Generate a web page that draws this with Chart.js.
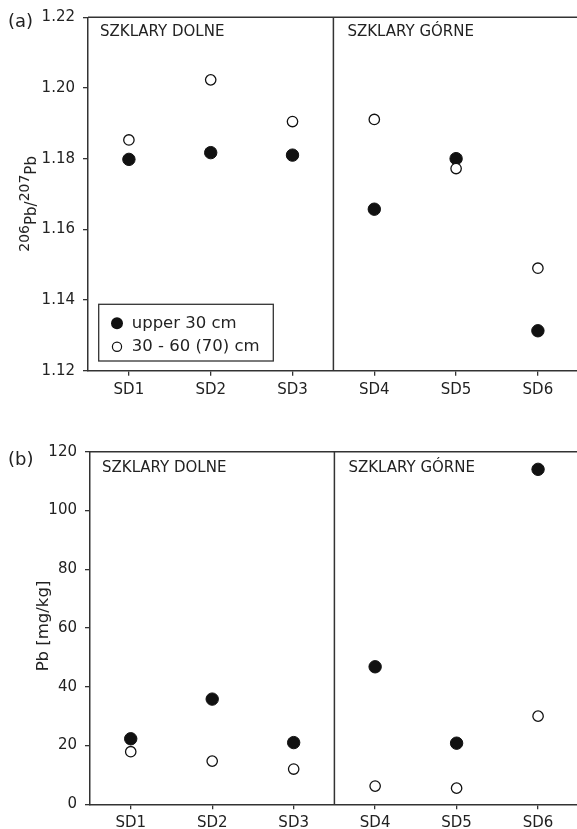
<!DOCTYPE html>
<html><head><meta charset="utf-8">
<script src="https://cdn.jsdelivr.net/npm/chart.js@4"></script>
<style>
html,body{margin:0;padding:0;background:#fff;overflow:hidden;width:577px;height:829px;position:relative}
#wa{position:absolute;left:0;top:0;width:586px;height:415px}
#wb{position:absolute;left:0;top:415px;width:586px;height:420px}
</style></head><body>
<div id="wa"><canvas id="ca" width="586" height="415"></canvas></div>
<div id="wb"><canvas id="cb" width="586" height="420"></canvas></div>
<script>
const categories = ['SD1','SD2','SD3','SD4','SD5','SD6'];
const ratioUpper = [1.1798,1.1817,1.1810,1.1657,1.1800,1.1313];
const ratioDeep  = [1.1853,1.2023,1.1905,1.1911,1.1772,1.1490];
const pbUpper = [22.3,35.8,21.0,46.8,20.8,114.0];
const pbDeep  = [17.9,14.7,12.0,6.2,5.5,30.0];
const seriesNames = ['upper 30 cm','30 - 60 (70) cm'];
const siteNames = ['SZKLARY DOLNE','SZKLARY GÓRNE'];
const ratioTicks = [1.12,1.14,1.16,1.18,1.20,1.22];
const pbTicks = [0,20,40,60,80,100,120];

const FONT = "'DejaVu Sans', sans-serif";
const INK = '#222';
const LINE = '#333';

const panelPlugin = {
  id: 'panel',
  beforeDatasetsDraw(chart, args, opts) {
    const ctx = chart.ctx, a = chart.chartArea, x = chart.scales.x;
    ctx.save();
    ctx.strokeStyle = LINE; ctx.lineWidth = 1.5;
    ctx.beginPath();
    ctx.moveTo(a.left, a.top); ctx.lineTo(a.right + 5, a.top);
    const dx = (x.getPixelForValue(2) + x.getPixelForValue(3)) / 2;
    ctx.moveTo(dx, a.top); ctx.lineTo(dx, a.bottom);
    ctx.stroke();
    ctx.fillStyle = INK; ctx.font = '15px ' + FONT; ctx.textBaseline = 'middle'; ctx.textAlign = 'left';
    ctx.fillText(siteNames[0], a.left + 12, a.top + opts.siteDy);
    ctx.fillText(siteNames[1], dx + 14, a.top + opts.siteDy);
    ctx.font = '18px ' + FONT;
    ctx.fillText(opts.tag, 8, opts.tagY);
    ctx.restore();
  },
  afterDraw(chart, args, opts) {
    const ctx = chart.ctx, a = chart.chartArea;
    ctx.save();
    ctx.fillStyle = INK;
    if (opts.legend) {
      const bl = a.left + 10.7, bt = a.bottom - 66.4, bw = 174.6, bh = 56.7;
      ctx.fillStyle = '#fff';
      ctx.fillRect(bl, bt, bw, bh);
      ctx.strokeStyle = LINE; ctx.lineWidth = 1.3;
      ctx.strokeRect(bl, bt, bw, bh);
      const rows = [bt + 19, bt + 42.4];
      ctx.fillStyle = '#111';
      ctx.beginPath(); ctx.arc(bl + 18.3, rows[0], 6, 0, Math.PI * 2); ctx.fill();
      ctx.fillStyle = '#fff'; ctx.strokeStyle = '#111'; ctx.lineWidth = 1.2;
      ctx.beginPath(); ctx.arc(bl + 18.3, rows[1], 4.6, 0, Math.PI * 2); ctx.fill(); ctx.stroke();
      ctx.fillStyle = INK; ctx.font = '16.5px ' + FONT; ctx.textBaseline = 'middle'; ctx.textAlign = 'left';
      ctx.fillText(seriesNames[0], bl + 33, rows[0]);
      ctx.fillText(seriesNames[1], bl + 33, rows[1]);
    }
    ctx.fillStyle = INK;
    ctx.textBaseline = 'alphabetic'; ctx.textAlign = 'left';
    if (opts.ratioTitle) {
      ctx.translate(35.5, 251.7);
      ctx.rotate(-Math.PI / 2);
      let px = 0;
      const parts = [['206', 14, -7], ['Pb', 15, 0], ['/', 15, 0], ['207', 14, -7], ['Pb', 15, 0]];
      for (const [t, s, dy] of parts) {
        ctx.font = s + 'px ' + FONT;
        ctx.fillText(t, px, dy);
        px += ctx.measureText(t).width;
      }
    }
    if (opts.pbTitle) {
      ctx.translate(48, (a.top + a.bottom) / 2 - 2);
      ctx.rotate(-Math.PI / 2);
      ctx.textAlign = 'center';
      ctx.font = '16.5px ' + FONT;
      ctx.fillText(opts.pbTitle, 0, 0);
    }
    ctx.restore();
  }
};

function makeChart(id, upper, deep, ticks, yWidth, xHeight, padTop, panelOpts, fmt) {
  return new Chart(document.getElementById(id), {
    type: 'line',
    data: {
      labels: categories,
      datasets: [
        { label: seriesNames[1], data: deep, showLine: false, pointRadius: 5.2, pointHoverRadius: 5.2,
          pointBackgroundColor: '#fff', pointBorderColor: '#111', pointBorderWidth: 1.3, borderColor: '#111', backgroundColor: '#fff' },
        { label: seriesNames[0], data: upper, showLine: false, pointRadius: 6.2, pointHoverRadius: 6.2,
          pointBackgroundColor: '#111', pointBorderColor: '#111', pointBorderWidth: 1, borderColor: '#111', backgroundColor: '#111' }
      ]
    },
    options: {
      responsive: false, animation: false, devicePixelRatio: 1,
      layout: { padding: { left: 0, top: padTop, right: 2.5, bottom: 0 } },
      plugins: { legend: { display: false }, tooltip: { enabled: false }, panel: panelOpts },
      scales: {
        x: {
          type: 'category', offset: true,
          grid: { display: true, drawOnChartArea: false, drawTicks: true, tickLength: 5, color: LINE, lineWidth: 1.3, offset: false },
          border: { display: true, color: LINE, width: 1.5 },
          ticks: { color: INK, font: { family: FONT, size: 15 }, padding: 5, maxRotation: 0 },
          afterFit: s => { s.height = xHeight; }
        },
        y: {
          min: ticks[0], max: ticks[ticks.length - 1],
          grid: { display: true, drawOnChartArea: false, drawTicks: true, tickLength: 5, color: LINE, lineWidth: 1.3 },
          border: { display: true, color: LINE, width: 1.5 },
          ticks: { color: INK, font: { family: FONT, size: 15 }, padding: 8, callback: fmt },
          afterBuildTicks: s => { s.ticks = ticks.map(v => ({ value: v })); },
          afterFit: s => { s.width = yWidth; }
        }
      }
    },
    plugins: [panelPlugin]
  });
}

makeChart('ca', ratioUpper, ratioDeep, ratioTicks, 88, 415 - 370.7, 17.3,
  { tag: '(a)', tagY: 22.5, siteDy: 15, legend: true, ratioTitle: true }, v => Number(v).toFixed(2));
makeChart('cb', pbUpper, pbDeep, pbTicks, 90, 420 - 389.3, 36.7,
  { tag: '(b)', tagY: 45, siteDy: 16.3, legend: false, pbTitle: 'Pb [mg/kg]' }, v => String(v));
</script>
</body></html>
